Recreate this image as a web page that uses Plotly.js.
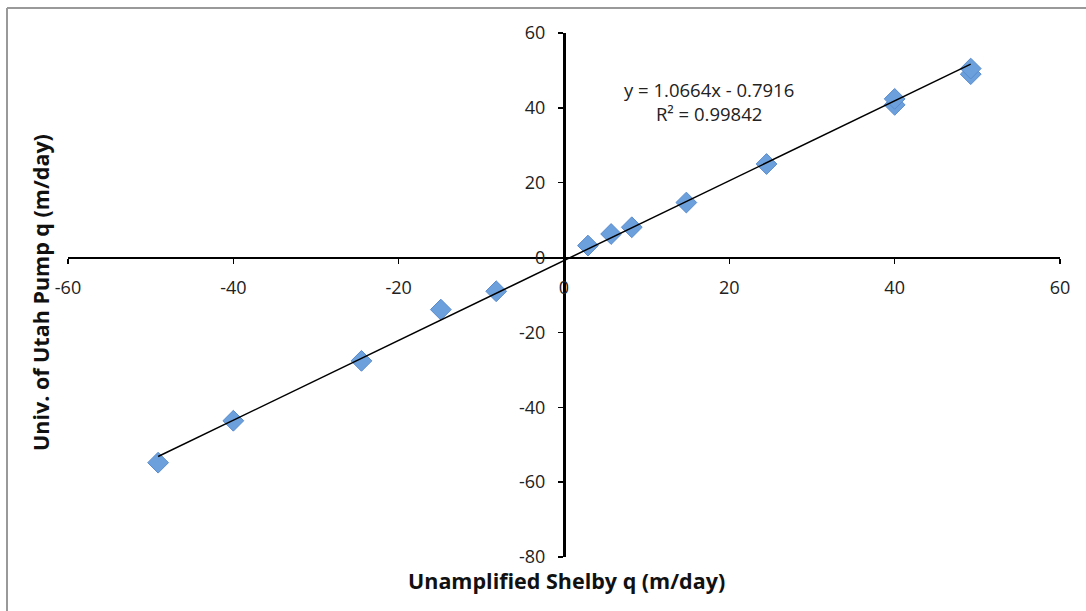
<!DOCTYPE html>
<html>
<head>
<meta charset="utf-8">
<script src="https://cdn.plot.ly/plotly-3.0.1.min.js"></script>
<style>html,body{margin:0;padding:0;background:#fff;}#chart{width:1086px;height:611px;}</style>
</head>
<body>
<div id="chart"></div>
<script>
// Data
const shelbyQ = [-49.1, -40.0, -24.5, -14.9, -8.2, 2.9, 5.7, 8.2, 14.8, 24.5, 40.0, 40.0, 49.2, 49.2];
const utahQ   = [-54.8, -43.6, -27.6, -13.9, -9.0, 3.2, 6.3, 8.1, 14.7, 25.0, 40.8, 42.4, 49.0, 50.5];
const fitSlope = 1.0664;
const fitIntercept = -0.7916;
const fitR2 = 0.99842;
const xTicks = [-60, -40, -20, 0, 20, 40, 60];
const yTicks = [-80, -60, -40, -20, 0, 20, 40, 60];

const xMin = Math.min(...shelbyQ), xMax = Math.max(...shelbyQ);
const fitX = [xMin, xMax];
const fitY = fitX.map(v => fitSlope * v + fitIntercept);

const font = "'Open Sans', 'Liberation Sans', sans-serif";

const traces = [
  {
    x: shelbyQ, y: utahQ, type: 'scatter', mode: 'markers',
    marker: {symbol: 'diamond', size: 16, color: 'rgb(108,160,220)',
             line: {color: 'rgb(90,140,205)', width: 1}},
    showlegend: false, hoverinfo: 'x+y'
  },
  {
    x: fitX, y: fitY, type: 'scatter', mode: 'lines',
    line: {color: '#000', width: 1.5}, showlegend: false, hoverinfo: 'skip'
  }
];

const layout = {
  width: 1086, height: 611,
  paper_bgcolor: '#fff', plot_bgcolor: 'rgba(0,0,0,0)',
  margin: {l: 68, r: 26, t: 33, b: 54},
  font: {family: font, size: 18, color: '#222'},
  xaxis: {
    range: [-60, 60], tickvals: xTicks, ticktext: xTicks.map(String),
    showgrid: false, zeroline: false, showline: true, linecolor: '#000', linewidth: 2.5,
    ticks: 'outside', ticklen: 5, tickwidth: 1.5, tickcolor: '#000',
    anchor: 'free', position: 80/140, ticklabelstandoff: 8,
    tickfont: {family: font, size: 18, color: '#222'}
  },
  yaxis: {
    range: [-80, 60], tickvals: yTicks, ticktext: yTicks.map(String),
    showgrid: false, zeroline: false, showline: true, linecolor: '#000', linewidth: 2.5,
    ticks: 'outside', ticklen: 5, tickwidth: 1.5, tickcolor: '#000',
    anchor: 'free', position: 0.5, ticklabelstandoff: 9,
    tickfont: {family: font, size: 18, color: '#222'}
  },
  annotations: [
    {text: 'y = 1.0664x - 0.7916<br>R² = ' + fitR2, xref: 'paper', yref: 'paper',
     x: (709 - 68) / 992, y: (557 - 101) / 524, xanchor: 'center', yanchor: 'middle',
     showarrow: false, font: {family: font, size: 18.5, color: '#222'}, align: 'center'},
    {text: '<b>Unamplified Shelby q (m/day)</b>', xref: 'paper', yref: 'paper',
     x: (566 - 68) / 992, y: (557 - 580) / 524, xanchor: 'center', yanchor: 'middle',
     showarrow: false, font: {family: font, size: 21.5, color: '#111'}},
    {text: '<b>Univ. of Utah Pump q (m/day)</b>', xref: 'paper', yref: 'paper',
     x: (40 - 68) / 992, y: (557 - 293) / 524, xanchor: 'center', yanchor: 'middle',
     showarrow: false, textangle: -90,
     font: {family: font, size: 21.5, color: '#111'}}
  ],
  shapes: [
    {type: 'line', xref: 'paper', yref: 'paper', x0: (7 - 68) / 992, x1: (7 - 68) / 992,
     y0: (557 - 8) / 524, y1: (557 - 615) / 524, line: {color: '#999', width: 2}},
    {type: 'line', xref: 'paper', yref: 'paper', x0: (7 - 68) / 992, x1: (1090 - 68) / 992,
     y0: (557 - 8) / 524, y1: (557 - 8) / 524, line: {color: '#999', width: 2}}
  ]
};

Plotly.newPlot('chart', traces, layout, {displayModeBar: false, staticPlot: true});
</script>
</body>
</html>
